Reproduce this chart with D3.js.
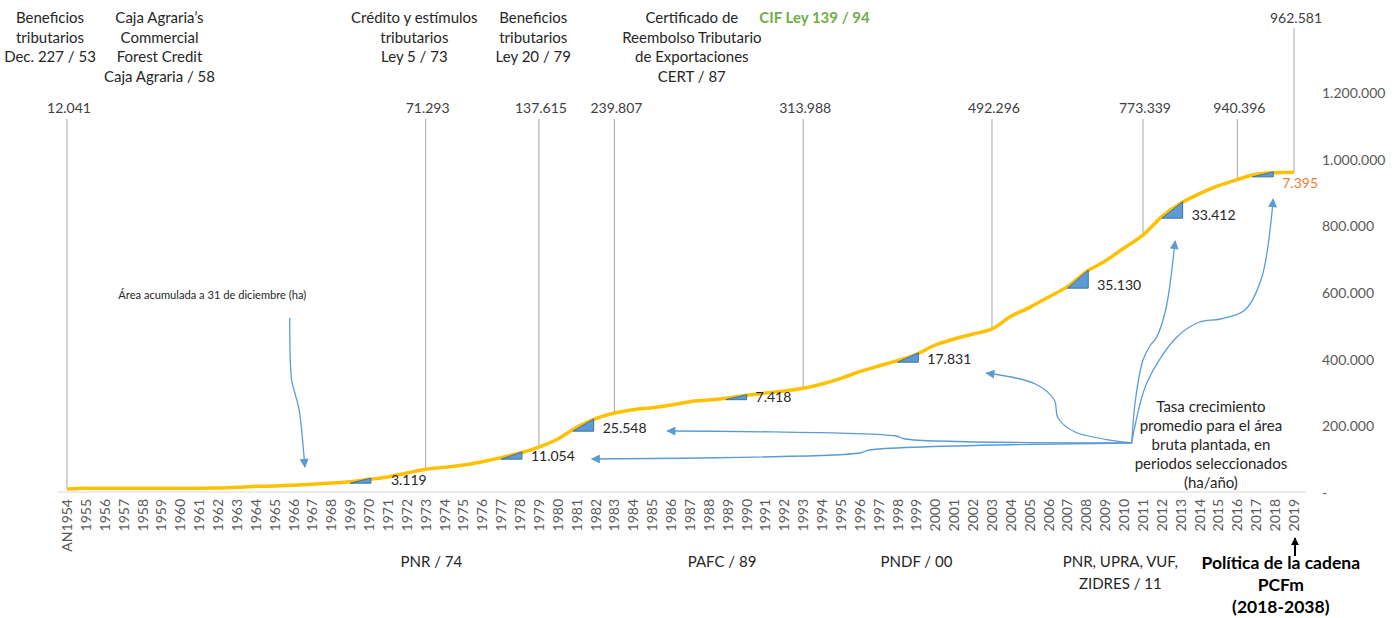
<!DOCTYPE html>
<html>
<head>
<meta charset="utf-8">
<script src="https://cdn.jsdelivr.net/npm/d3@7"></script>
<style>
  body { margin: 0; background: #fff; }
  text { font-family: Lato, "Open Sans", sans-serif; }
</style>
</head>
<body>
<script>
// cumulative planted area (ha) at 31 Dec, 1954 - 2019
var years = d3.range(1954, 2020);
var area = [12041, 13900, 14100, 14200, 14300, 14400, 14500, 14600, 14800, 17000,
            20000, 21000, 23500, 26500, 30000, 34000, 41000, 48000, 60000, 71293,
            77000, 84000, 94000, 106000, 120000, 137615, 162000, 197000, 223000, 239807,
            250000, 256000, 264000, 274000, 279000, 285000, 293000, 300000, 306000, 313988,
            327000, 344000, 364000, 381000, 397000, 416000, 444000, 462000, 477000, 492296,
            530000, 557000, 588000, 619000, 664000, 696000, 735000, 773339, 829000, 869000,
            898000, 922000, 940396, 956000, 961000, 962581];

var calloutYears = [1954, 1973, 1979, 1983, 1993, 2003, 2011, 2016, 2019];

// average growth rate per period (ha/año) and where the little triangle sits
var rateStart = [1969, 1977, 1980.8, 1988.9, 1998, 2007, 2012, 2016.8];
var rateValues = [3119, 11054, 25548, 7418, 17831, 35130, 33412, 7395];

var yTicks = [0, 200000, 400000, 600000, 800000, 1000000, 1200000];

var topNotes = [
  {year: 1953.1, lines: ["Beneficios", "tributarios", "Dec. 227 / 53"]},
  {year: 1958.9, lines: ["Caja Agraria\u2019s", "Commercial", "Forest Credit", "Caja Agraria / 58"]},
  {year: 1972.4, lines: ["Cr\u00e9dito y est\u00edmulos", "tributarios", "Ley 5 / 73"]},
  {year: 1978.7, lines: ["Beneficios", "tributarios", "Ley 20 / 79"]},
  {year: 1987.1, lines: ["Certificado de", "Reembolso Tributario", "de Exportaciones", "CERT / 87"]}
];
var bottomNotes = [
  {year: 1973.3, lines: ["PNR / 74"]},
  {year: 1988.7, lines: ["PAFC / 89"]},
  {year: 1999.0, lines: ["PNDF / 00"]},
  {year: 2009.8, lines: ["PNR, UPRA, VUF,", "ZIDRES / 11"]}
];
var pcfmLines = ["Pol\u00edtica de la cadena", "PCFm", "(2018-2038)"];
var rateNoteLines = ["Tasa crecimiento", "promedio para el \u00e1rea", "bruta plantada, en",
                     "periodos seleccionados", "(ha/a\u00f1o)"];

// blue arrows, points as [year, ha]
var arrows = [
  [[1965.8, 525000], [1965.9, 339000], [1966.1, 294000], [1966.3, 249000], [1966.6, 78000]],
  [[2010.4, 150000], [1996.5, 129000], [1996.0, 120000], [1981.8, 102000]],
  [[2010.4, 150000], [1998.4, 162000], [1997.9, 171000], [1985.8, 186000]],
  [[2010.4, 150000], [2007.4, 183000], [2006.5, 225000], [2006.3, 279000], [2005.3, 327000], [2002.7, 360000]],
  [[2010.4, 150000], [2010.6, 279000], [2011.0, 399000], [2011.4, 444000], [2011.7, 465000], [2012.2, 549000], [2012.7, 756000]],
  [[2010.4, 150000], [2011.2, 330000], [2012.8, 468000], [2014.0, 513000], [2015.1, 522000], [2016.4, 549000], [2017.3, 648000], [2017.9, 882000]]
];

var width = 1400, height = 618;
var loc = d3.formatLocale({decimal: ",", thousands: ".", grouping: [3], currency: ["$", ""]});
var fmt = loc.format(",d");

var x = d3.scaleLinear().domain([1954, 2019]).range([67, 1294]);
var y = d3.scaleLinear().domain([0, 1200000]).range([493, 93]);

function valAt(t) {
  var i = Math.max(0, Math.min(years.length - 2, Math.floor(t - 1954)));
  var f = t - years[i];
  return area[i] + (area[i + 1] - area[i]) * f;
}

var svg = d3.select("body").append("svg")
    .attr("width", width)
    .attr("height", height);

var defs = svg.append("defs");
defs.append("marker")
    .attr("id", "blueHead")
    .attr("viewBox", "0 0 10 10")
    .attr("refX", 9).attr("refY", 5)
    .attr("markerUnits", "userSpaceOnUse")
    .attr("markerWidth", 10).attr("markerHeight", 9)
    .attr("orient", "auto")
  .append("path")
    .attr("d", "M0,0 L10,5 L0,10 z")
    .attr("fill", "#5b9bd5");
defs.append("marker")
    .attr("id", "blackHead")
    .attr("viewBox", "0 0 10 10")
    .attr("refX", 9).attr("refY", 5)
    .attr("markerUnits", "userSpaceOnUse")
    .attr("markerWidth", 8).attr("markerHeight", 8)
    .attr("orient", "auto")
  .append("path")
    .attr("d", "M0,0 L10,5 L0,10 z")
    .attr("fill", "#000");

// baseline
svg.append("line")
    .attr("x1", 57).attr("x2", 1306)
    .attr("y1", y(0) - 1).attr("y2", y(0) - 1)
    .attr("stroke", "#d9d9d9").attr("stroke-width", 1.2);

// right axis labels
svg.append("g")
  .selectAll("text")
  .data(yTicks)
  .enter().append("text")
    .attr("x", 1322)
    .attr("y", function(d) { return y(d); })
    .attr("dy", "0.35em")
    .attr("font-size", 14)
    .attr("fill", "#595959")
    .text(function(d) { return d === 0 ? "-" : fmt(d); });

// year labels, rotated
svg.append("g")
  .selectAll("text")
  .data(years)
  .enter().append("text")
    .attr("transform", function(d) { return "translate(" + (x(d) + 5) + ",499) rotate(-90)"; })
    .attr("text-anchor", "end")
    .attr("font-size", 14)
    .attr("fill", "#595959")
    .text(function(d, i) { return i === 0 ? "AN" + d : d; });

// leader lines + values
var callouts = svg.append("g");
calloutYears.forEach(function(yr, i) {
  var v = area[yr - 1954];
  var last = i === calloutYears.length - 1;
  var top = last ? 28 : 119;
  callouts.append("line")
      .attr("x1", x(yr)).attr("x2", x(yr))
      .attr("y1", top).attr("y2", y(v))
      .attr("stroke", "#a6a6a6").attr("stroke-width", 1);
  callouts.append("text")
      .attr("x", x(yr) + 2)
      .attr("y", last ? 18 : 108)
      .attr("dy", "0.35em")
      .attr("text-anchor", "middle")
      .attr("font-size", 14)
      .attr("fill", "#404040")
      .text(fmt(v));
});

// area curve
var line = d3.line()
    .x(function(d, i) { return x(years[i]); })
    .y(function(d) { return y(d); })
    .curve(d3.curveMonotoneX);

svg.append("path")
    .datum(area)
    .attr("d", line)
    .attr("fill", "none")
    .attr("stroke", "#ffc000")
    .attr("stroke-width", 3.5)
    .attr("stroke-linejoin", "round");

// rate triangles
var tri = svg.append("g");
rateStart.forEach(function(t0, i) {
  var t1 = t0 + 1.1;
  var x0 = x(t0), x1 = x(t1);
  var yb = y(valAt(t0)) + 1.5, yt = y(valAt(t1)) - 0.5;
  if (yb - yt < 5) yt = yb - 5;
  tri.append("path")
      .attr("d", "M" + x0 + "," + yb + "L" + x1 + "," + yt + "L" + x1 + "," + yb + "Z")
      .attr("fill", "#5b9bd5")
      .attr("stroke", "#41719c")
      .attr("stroke-width", 1);
  var last = i === rateStart.length - 1;
  tri.append("text")
      .attr("x", x1 + (i === 0 ? 20 : 9))
      .attr("y", last ? yb + 6 : yb - 3)
      .attr("dy", "0.35em")
      .attr("font-size", 14)
      .attr("fill", last ? "#ed7d31" : "#262626")
      .text(fmt(rateValues[i]));
});

// blue arrows
var arrowLine = d3.line()
    .x(function(d) { return x(d[0]); })
    .y(function(d) { return y(d[1]); })
    .curve(d3.curveCatmullRom.alpha(0.5));

svg.append("g")
  .selectAll("path")
  .data(arrows)
  .enter().append("path")
    .attr("d", arrowLine)
    .attr("fill", "none")
    .attr("stroke", "#5b9bd5")
    .attr("stroke-width", 1.3)
    .attr("marker-end", "url(#blueHead)");

function block(g, cx, cy, lines, step, opts) {
  lines.forEach(function(s, i) {
    g.append("text")
        .attr("x", cx)
        .attr("y", cy + i * step)
        .attr("dy", "0.35em")
        .attr("text-anchor", "middle")
        .attr("font-size", opts.size || 15)
        .attr("font-weight", opts.weight || "normal")
        .attr("fill", opts.color || "#262626")
        .text(s);
  });
}

var notes = svg.append("g");
topNotes.forEach(function(n) { block(notes, x(n.year), 18, n.lines, 19.5, {}); });
block(notes, x(1993.6), 18, ["CIF Ley 139 / 94"], 19.5, {weight: "bold", color: "#70ad47"});
bottomNotes.forEach(function(n) { block(notes, x(n.year), 562, n.lines, 22, {}); });
block(notes, x(2018.3), 563, pcfmLines, 22, {weight: "bold", color: "#000", size: 17.5});
block(notes, x(2014.6), 407, rateNoteLines, 19, {});

notes.append("text")
    .attr("x", x(1961.7))
    .attr("y", 295)
    .attr("dy", "0.35em")
    .attr("text-anchor", "middle")
    .attr("font-size", 11)
    .attr("textLength", 188)
    .attr("lengthAdjust", "spacingAndGlyphs")
    .attr("fill", "#262626")
    .text("\u00c1rea acumulada a 31 de diciembre (ha)");

// black arrow pointing at 2019
svg.append("line")
    .attr("x1", x(2019) + 1).attr("x2", x(2019) + 1)
    .attr("y1", 556).attr("y2", 538)
    .attr("stroke", "#000").attr("stroke-width", 2)
    .attr("marker-end", "url(#blackHead)");
</script>
</body>
</html>
